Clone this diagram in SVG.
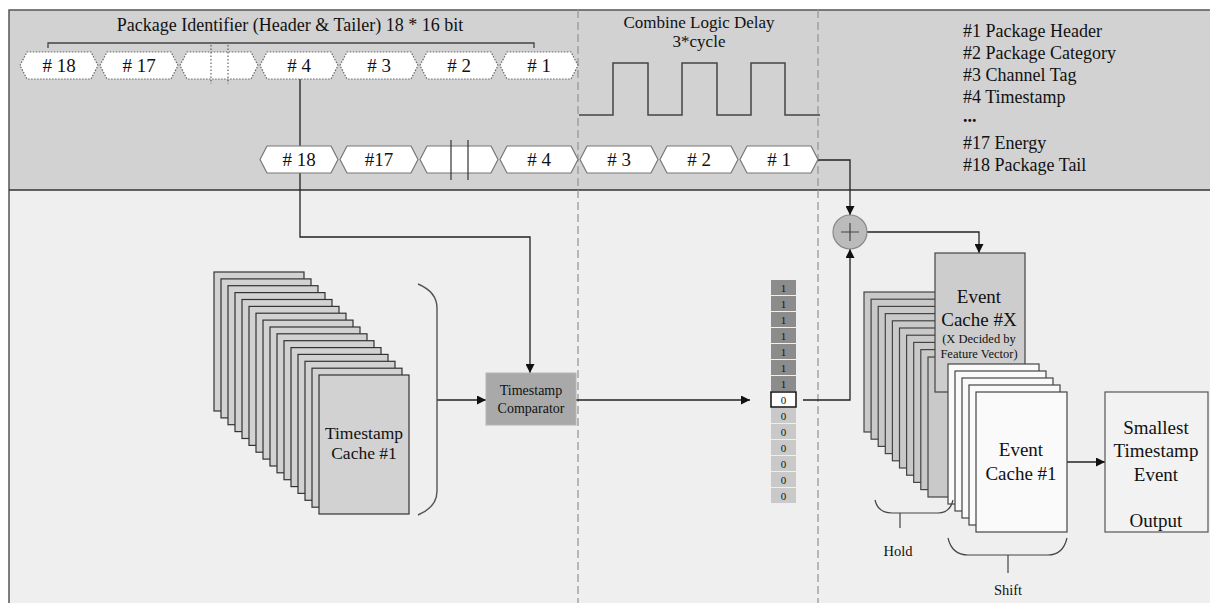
<svg xmlns="http://www.w3.org/2000/svg" width="1210" height="603" viewBox="0 0 1210 603" font-family="'Liberation Serif', 'DejaVu Serif', 'Times New Roman', serif">
<defs>
<marker id="arr" viewBox="0 0 10 10" refX="10" refY="5" markerWidth="10" markerHeight="9" markerUnits="userSpaceOnUse" orient="auto">
<path d="M0,0 L10,5 L0,10 Z" fill="#111"/>
</marker>
</defs>
<style>
text{font-family:"Liberation Serif","DejaVu Serif","Times New Roman",serif;fill:#111}
.c{text-anchor:middle}
.conn{fill:none;stroke:#222;stroke-width:1.3}
.hexd{fill:#fff;stroke:#666;stroke-width:1.2;stroke-dasharray:1.5 1.5}
.hexs{fill:#fff;stroke:#777;stroke-width:1.2}
.tc{fill:#d2d2d2;stroke:#333;stroke-width:1.2}
.ec{fill:#c9c9c9;stroke:#444;stroke-width:1.2}
.ew{fill:#fafafa;stroke:#444;stroke-width:1.2}
.dash{stroke:#999;stroke-width:1.3;stroke-dasharray:8 4}
.hx{font-size:19px}
.h18{font-size:18px}
.h19{font-size:19px}
</style>
<rect x="0" y="0" width="1210" height="603" fill="#fff"/>
<rect id="bottom-panel" x="9" y="190" width="1201" height="413" fill="#efefef"/>
<rect id="top-panel" x="9" y="10" width="1201" height="180" fill="#d2d2d2"/>
<path d="M9,603 V10 H1210" fill="none" stroke="#555" stroke-width="1.5"/>
<line x1="9" y1="190" x2="1210" y2="190" stroke="#333" stroke-width="1.6"/>
<line class="dash" x1="578" y1="10" x2="578" y2="603"/>
<line class="dash" x1="818" y1="10" x2="818" y2="603"/>

<g id="titles">
<text class="c h18" x="290" y="31">Package Identifier (Header &amp; Tailer) 18 * 16 bit</text>
<text class="c" x="699" y="28" font-size="17">Combine Logic Delay</text>
<text class="c" x="699" y="47" font-size="17">3*cycle</text>
</g>
<g id="legend" class="h18">
<text x="963" y="37">#1 Package Header</text>
<text x="963" y="59">#2 Package Category</text>
<text x="963" y="81">#3 Channel Tag</text>
<text x="963" y="103">#4 Timestamp</text>
<text x="963" y="122" font-weight="bold">...</text>
<text x="963" y="149">#17 Energy</text>
<text x="963" y="171">#18 Package Tail</text>
</g>

<g id="connectors">
<path class="conn" d="M300,79 V237 H530 V373" marker-end="url(#arr)"/>
<path class="conn" d="M818,160 H850 V215" marker-end="url(#arr)"/>
<path class="conn" d="M867,232 H979 V253" marker-end="url(#arr)"/>
<path class="conn" d="M803,400 H850 V249" marker-end="url(#arr)"/>
<path class="conn" d="M576,400 H750" marker-end="url(#arr)"/>
<path class="conn" d="M437,400 H486" marker-end="url(#arr)"/>
<path class="conn" d="M1067,462 H1105" marker-end="url(#arr)"/>
</g>

<g id="bracket">
<path d="M48,48 V43 H534 V48" fill="none" stroke="#444" stroke-width="1.3"/>
</g>

<g id="package-row-top" class="hx">
<path class="hexd" d="M20,65.5 L27,52 L91,52 L98,65.5 L91,79 L27,79 Z"/>
<text class="c" x="59" y="72"># 18</text>
<path class="hexd" d="M100,65.5 L107,52 L171,52 L178,65.5 L171,79 L107,79 Z"/>
<text class="c" x="139" y="72"># 17</text>
<path class="hexd" d="M180,65.5 L187,52 L251,52 L258,65.5 L251,79 L187,79 Z"/>
<line x1="211" y1="45" x2="211" y2="84" stroke="#444" stroke-dasharray="1.5 2"/>
<line x1="228" y1="45" x2="228" y2="84" stroke="#444" stroke-dasharray="1.5 2"/>
<path class="hexd" d="M260,65.5 L267,52 L331,52 L338,65.5 L331,79 L267,79 Z"/>
<text class="c" x="299" y="72"># 4</text>
<path class="hexd" d="M340,65.5 L347,52 L411,52 L418,65.5 L411,79 L347,79 Z"/>
<text class="c" x="379" y="72"># 3</text>
<path class="hexd" d="M420,65.5 L427,52 L491,52 L498,65.5 L491,79 L427,79 Z"/>
<text class="c" x="459" y="72"># 2</text>
<path class="hexd" d="M500,65.5 L507,52 L571,52 L578,65.5 L571,79 L507,79 Z"/>
<text class="c" x="539" y="72"># 1</text>
</g>

<g id="clock">
<path d="M579,115 H613 V63 H648 V115 H682 V63 H717 V115 H751 V63 H785 V115 H820" fill="none" stroke="#444" stroke-width="1.5"/>
</g>

<g id="package-row-bottom" class="hx">
<path class="hexs" d="M260,159.5 L267,146 L331,146 L338,159.5 L331,173 L267,173 Z"/>
<text class="c" x="299" y="166"># 18</text>
<path class="hexs" d="M340,159.5 L347,146 L411,146 L418,159.5 L411,173 L347,173 Z"/>
<text class="c" x="379" y="166">#17</text>
<path class="hexs" d="M420,159.5 L427,146 L491,146 L498,159.5 L491,173 L427,173 Z"/>
<line x1="451" y1="140" x2="451" y2="180" stroke="#333" stroke-width="1.2"/>
<line x1="468" y1="140" x2="468" y2="180" stroke="#333" stroke-width="1.2"/>
<path class="hexs" d="M500,159.5 L507,146 L571,146 L578,159.5 L571,173 L507,173 Z"/>
<text class="c" x="539" y="166"># 4</text>
<path class="hexs" d="M580,159.5 L587,146 L651,146 L658,159.5 L651,173 L587,173 Z"/>
<text class="c" x="619" y="166"># 3</text>
<path class="hexs" d="M660,159.5 L667,146 L731,146 L738,159.5 L731,173 L667,173 Z"/>
<text class="c" x="699" y="166"># 2</text>
<path class="hexs" d="M740,159.5 L747,146 L811,146 L818,159.5 L811,173 L747,173 Z"/>
<text class="c" x="779" y="166"># 1</text>
</g>

<g id="timestamp-cache">
<rect class="tc" x="214" y="272" width="90" height="139"/>
<rect class="tc" x="221" y="278.9" width="90" height="139"/>
<rect class="tc" x="228" y="285.7" width="90" height="139"/>
<rect class="tc" x="235" y="292.6" width="90" height="139"/>
<rect class="tc" x="242" y="299.5" width="90" height="139"/>
<rect class="tc" x="249" y="306.4" width="90" height="139"/>
<rect class="tc" x="256" y="313.2" width="90" height="139"/>
<rect class="tc" x="263" y="320.1" width="90" height="139"/>
<rect class="tc" x="270" y="327" width="90" height="139"/>
<rect class="tc" x="277" y="333.8" width="90" height="139"/>
<rect class="tc" x="284" y="340.7" width="90" height="139"/>
<rect class="tc" x="291" y="347.6" width="90" height="139"/>
<rect class="tc" x="298" y="354.4" width="90" height="139"/>
<rect class="tc" x="305" y="361.3" width="90" height="139"/>
<rect class="tc" x="312" y="368.2" width="90" height="139"/>
<rect class="tc" x="319" y="375" width="90" height="139"/>
<text class="c" x="364" y="439" font-size="17.5">Timestamp</text>
<text class="c" x="364" y="459" font-size="17.5">Cache #1</text>
<path d="M418,284 Q437,292 437,308 V491 Q437,507 418,515" fill="none" stroke="#555" stroke-width="1.4"/>
</g>

<g id="comparator">
<rect x="486" y="373" width="90" height="52" fill="#a9a9a9" stroke="#b5b5b5"/>
<text class="c" x="531" y="395" font-size="14">Timestamp</text>
<text class="c" x="531" y="413" font-size="14">Comparator</text>
</g>

<g id="bit-vector" font-size="11">
<rect x="771" y="280" width="25" height="15" fill="#8c8c8c"/><text class="c" x="783.5" y="292">1</text>
<rect x="771" y="296" width="25" height="15" fill="#8c8c8c"/><text class="c" x="783.5" y="308">1</text>
<rect x="771" y="312" width="25" height="15" fill="#8c8c8c"/><text class="c" x="783.5" y="324">1</text>
<rect x="771" y="328" width="25" height="15" fill="#8c8c8c"/><text class="c" x="783.5" y="340">1</text>
<rect x="771" y="344" width="25" height="15" fill="#8c8c8c"/><text class="c" x="783.5" y="356">1</text>
<rect x="771" y="360" width="25" height="15" fill="#8c8c8c"/><text class="c" x="783.5" y="372">1</text>
<rect x="771" y="376" width="25" height="15" fill="#8c8c8c"/><text class="c" x="783.5" y="388">1</text>
<rect x="771" y="392" width="25" height="15" fill="#fff" stroke="#111" stroke-width="1.5"/><text class="c" x="783.5" y="404">0</text>
<rect x="771" y="408" width="25" height="15" fill="#c9c9c9"/><text class="c" x="783.5" y="420">0</text>
<rect x="771" y="424" width="25" height="15" fill="#c9c9c9"/><text class="c" x="783.5" y="436">0</text>
<rect x="771" y="440" width="25" height="15" fill="#c9c9c9"/><text class="c" x="783.5" y="452">0</text>
<rect x="771" y="456" width="25" height="15" fill="#c9c9c9"/><text class="c" x="783.5" y="468">0</text>
<rect x="771" y="472" width="25" height="15" fill="#c9c9c9"/><text class="c" x="783.5" y="484">0</text>
<rect x="771" y="488" width="25" height="15" fill="#c9c9c9"/><text class="c" x="783.5" y="500">0</text>
</g>

<g id="adder">
<circle cx="850" cy="232" r="17" fill="#bbb" stroke="#888" stroke-width="1.2"/>
<path d="M841,232 H859 M850,223 V241" stroke="#444" stroke-width="1.2"/>
</g>

<g id="event-cache-stack">
<rect class="ec" x="864" y="292" width="90" height="140"/>
<rect class="ec" x="871.1" y="299.2" width="90" height="140"/>
<rect class="ec" x="878.2" y="306.4" width="90" height="140"/>
<rect class="ec" x="885.3" y="313.6" width="90" height="140"/>
<rect class="ec" x="892.4" y="320.8" width="90" height="140"/>
<rect class="ec" x="899.5" y="328" width="90" height="140"/>
<rect class="ec" x="906.6" y="335.2" width="90" height="140"/>
<rect class="ec" x="913.7" y="342.4" width="90" height="140"/>
<rect class="ec" x="920.8" y="349.6" width="90" height="140"/>
<rect class="ec" x="928" y="357" width="90" height="140"/>
</g>
<g id="event-cache-x">
<rect x="935" y="253" width="90" height="139" fill="#cdcdcd" stroke="#444" stroke-width="1.2"/>
<text class="c h19" x="979" y="303">Event</text>
<text class="c h19" x="979" y="326">Cache #X</text>
<text class="c" x="979" y="343" font-size="12.5">(X Decided by</text>
<text class="c" x="979" y="358" font-size="12.5">Feature Vector)</text>
</g>
<g id="event-cache-1">
<rect class="ew" x="948" y="364" width="91" height="140"/>
<rect class="ew" x="955" y="371" width="91" height="140"/>
<rect class="ew" x="962" y="378" width="91" height="140"/>
<rect class="ew" x="969" y="385" width="91" height="140"/>
<rect class="ew" x="976" y="392" width="91" height="140"/>
<text class="c h19" x="1021" y="456">Event</text>
<text class="c h19" x="1021" y="480">Cache #1</text>
</g>

<g id="hold">
<path d="M875,500 Q878,513 892,513 H938 Q950,513 953,500 M900,513 V528" fill="none" stroke="#444" stroke-width="1.2"/>
<text class="c" x="898" y="556" font-size="14.5">Hold</text>
</g>
<g id="shift">
<path d="M948,538 Q952,555 968,555 H1048 Q1063,555 1067,538 M1008,555 V573" fill="none" stroke="#444" stroke-width="1.2"/>
<text class="c" x="1008" y="595" font-size="14.5">Shift</text>
</g>

<g id="output">
<rect x="1105" y="392" width="103" height="140" fill="#f2f2f2" stroke="#555" stroke-width="1.2"/>
<text class="c h19" x="1156" y="434">Smallest</text>
<text class="c h19" x="1156" y="457">Timestamp</text>
<text class="c h19" x="1156" y="481">Event</text>
<text class="c h19" x="1156" y="527">Output</text>
</g>
</svg>
